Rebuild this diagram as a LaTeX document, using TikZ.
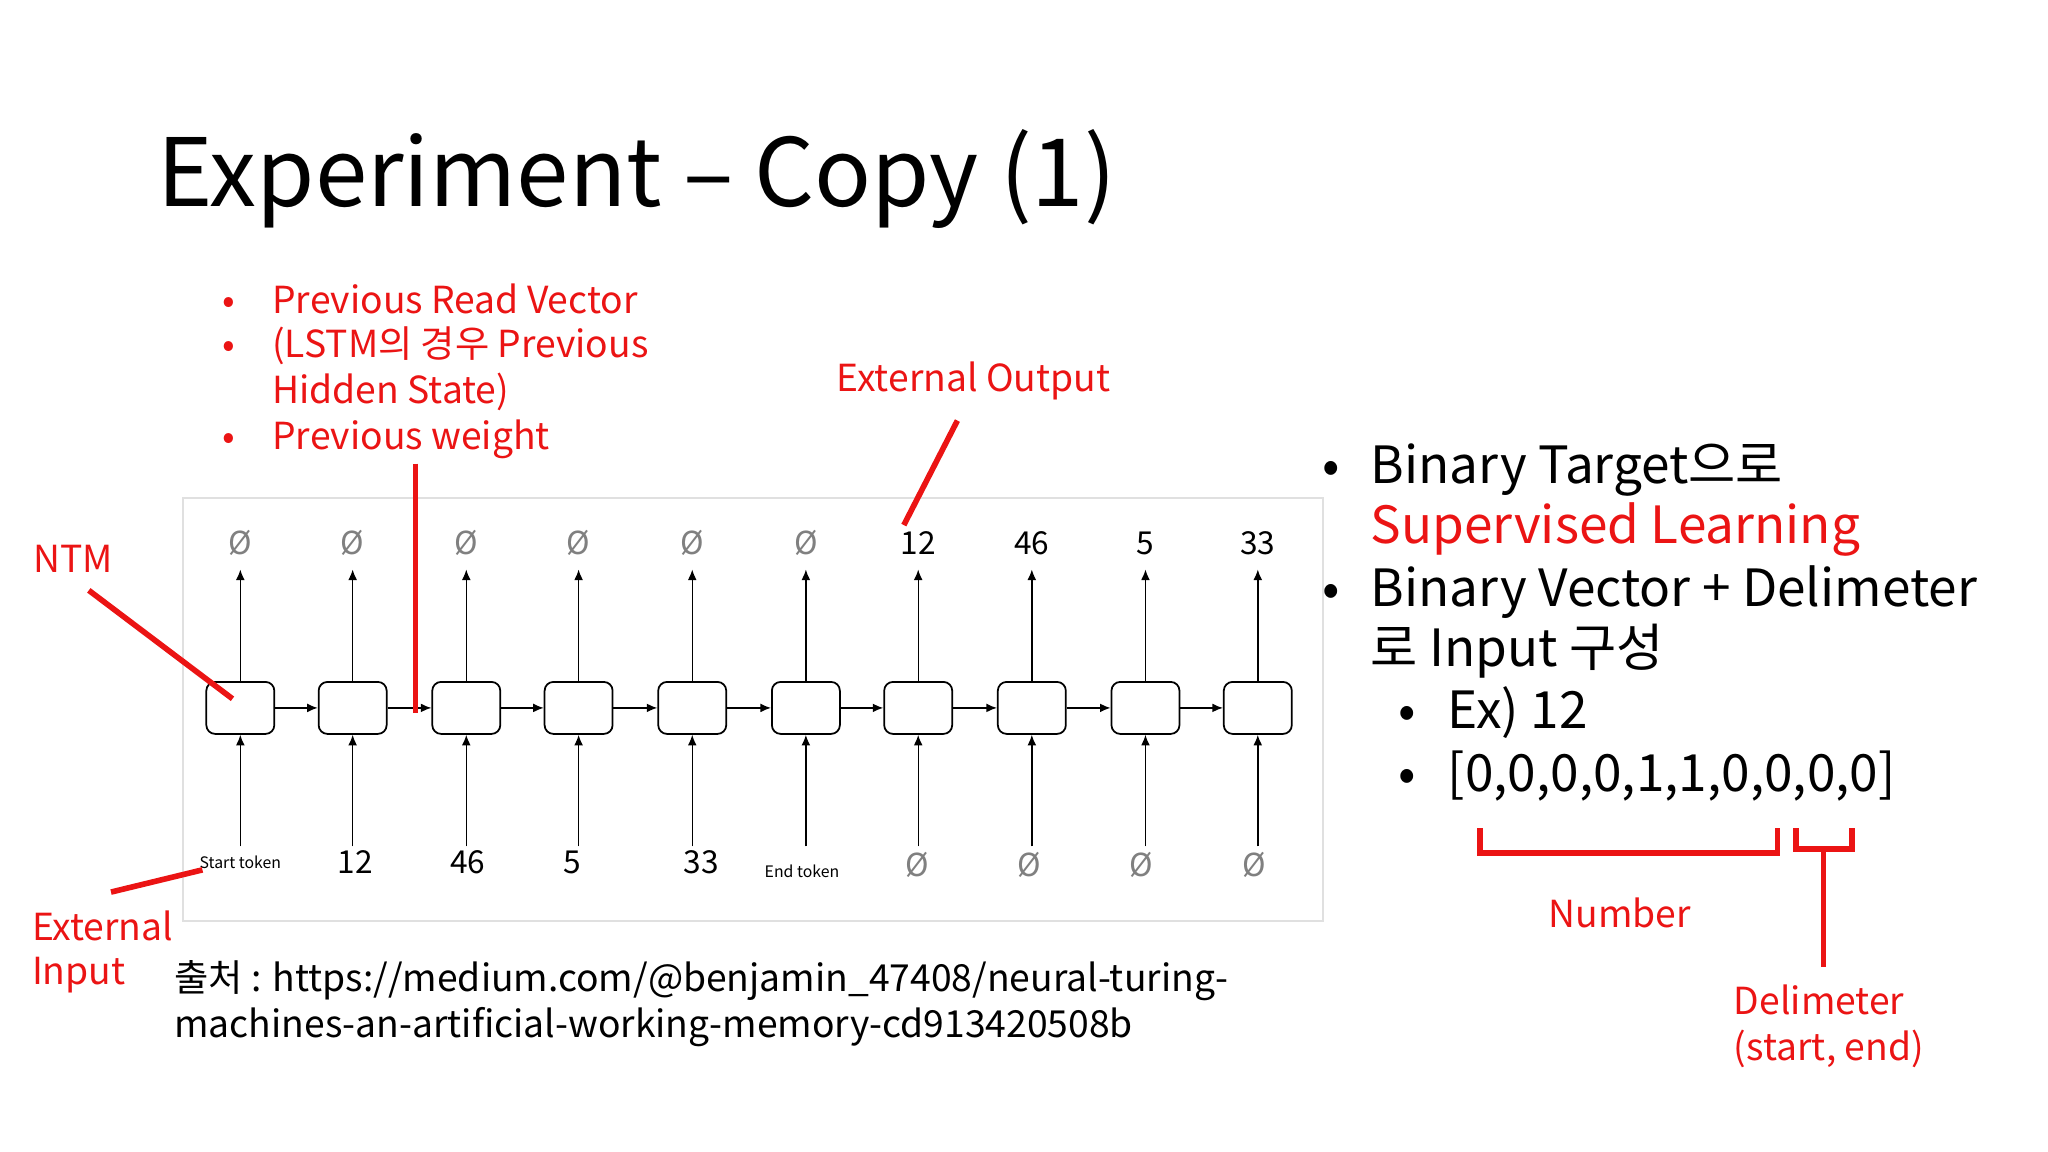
\documentclass[tikz,border=0pt]{standalone}
\usepackage{fontspec}
\setmainfont{Noto Sans CJK KR}
\usetikzlibrary{arrows.meta}
\definecolor{rd}{RGB}{235,20,20}
\begin{document}
\begin{tikzpicture}[x=0.01306cm,y=-0.01306cm,
  cell/.style={draw,rounded corners=2.5pt,minimum width=0.68cm,minimum height=0.52cm,inner sep=0,line width=0.5pt},
  ar/.style={-{Latex[length=3pt,width=2.5pt]},line width=0.4pt},
  red line/.style={rd,line width=1.6pt},
  lab/.style={font=\fontsize{9}{10}\selectfont,inner sep=1pt},
  emp/.style={font=\fontsize{9}{10}\selectfont,text=gray,inner sep=1pt},
  tok/.style={font=\fontsize{4.5}{5}\selectfont,inner sep=1pt},
  rtxt/.style={text=rd,font=\fontsize{10.6}{13}\selectfont,inner sep=0,anchor=base west},
  btxt/.style={font=\fontsize{14.6}{17}\selectfont,inner sep=0,anchor=base west}]
\useasboundingbox (0,0) rectangle (1568,882);
\fill[white] (0,0) rectangle (1568,882);
\node[anchor=base west,inner sep=0,font=\fontsize{26.8}{30}\selectfont] (title) at (120,158) {Experiment – Copy (1)};
\draw[black!12,line width=0.6pt] (140,381) rectangle (1013,705);
\foreach \i/\x/\t/\b/\ts/\bs in {1/184/Ø/Start token/emp/tok,2/270/Ø/12/emp/lab,3/357/Ø/46/emp/lab,4/443/Ø/5/emp/lab,5/530/Ø/33/emp/lab,6/617/Ø/End token/emp/tok,7/703/12/Ø/lab/emp,8/790/46/Ø/lab/emp,9/877/5/Ø/lab/emp,10/963/33/Ø/lab/emp}{
  \node[cell] (c\i) at (\x,542) {};
  \node[\ts] (t\i) at (\x,416) {\t};
  \coordinate (tp\i) at (\x,436);
  \coordinate (bp\i) at (\x,648);
  \draw[ar] (c\i.north) -- (tp\i);
  \draw[ar] (bp\i) -- (c\i.south);
}
\node[tok] (b1) at (184,660) {Start token};
\node[lab] (b2) at (272,660) {12};
\node[lab] (b3) at (358,660) {46};
\node[lab] (b4) at (438,660) {5};
\node[lab] (b5) at (537,660) {33};
\node[tok] (b6) at (614,667) {End token};
\foreach \i/\x in {7/702,8/788,9/874,10/960}{\node[emp] (b\i) at (\x,662) {Ø};}
\foreach \i [evaluate=\i as \j using int(\i+1)] in {1,...,9}{\draw[ar] (c\i) -- (c\j);}
% red annotations
\node[text=rd,font=\fontsize{10.6}{13}\selectfont] (ntm) at (56,428) {NTM};
\coordinate (ntmA) at (68,452); \coordinate (ntmB) at (178,535);
\draw[red line] (ntmA) -- (ntmB);
\node[rtxt] (ei1) at (24,720) {External};
\node[rtxt] (ei2) at (24,754) {Input};
\coordinate (eiA) at (85,683); \coordinate (eiB) at (155,666);
\draw[red line] (eiA) -- (eiB);
\coordinate (pvA) at (318,355); \coordinate (pvB) at (318,546);
\draw[red line] (pvA) -- (pvB);
\node[rtxt] (eo) at (640,300) {External Output};
\coordinate (eoA) at (733,322); \coordinate (eoB) at (692,402);
\draw[red line] (eoA) -- (eoB);
\foreach \y/\t in {240/Previous Read Vector,274/(LSTM의 경우 Previous,309/Hidden State),344/Previous weight}{\node[rtxt] at (208,\y) {\t};}
\foreach \y in {240,274,344}{\node[rtxt] at (170,\y) {•};}
% right text
\node[btxt] at (1012,370) {•};
\node[btxt] at (1049,370) {Binary Target으로};
\node[btxt,text=rd] at (1049,416) {Supervised Learning};
\node[btxt] at (1012,464) {•};
\node[btxt] at (1049,464) {Binary Vector + Delimeter};
\node[btxt] at (1049,510) {로 Input 구성};
\node[btxt] at (1070,558) {•};
\node[btxt] at (1108,558) {Ex) 12};
\node[btxt] at (1070,606) {•};
\node[btxt] at (1108,606) {[0,0,0,0,1,1,0,0,0,0]};
% brackets
\draw[rd,line width=1.6pt] (1133,634) -- (1133,653) -- (1361,653) -- (1361,634);
\draw[rd,line width=1.6pt] (1375,634) -- (1375,650) -- (1418,650) -- (1418,634);
\coordinate (dA) at (1396,650); \coordinate (dB) at (1396,740);
\draw[red line] (dA) -- (dB);
\node[rtxt] (num) at (1185,710) {Number};
\node[rtxt] (dl1) at (1327,777) {Delimeter};
\node[rtxt] (dl2) at (1327,812) {(start, end)};
% source
\node[anchor=base west,inner sep=0,font=\fontsize{10.6}{13}\selectfont] (src1) at (133,759) {출처 : https://medium.com/@benjamin\_47408/neural-turing-};
\node[anchor=base west,inner sep=0,font=\fontsize{10.6}{13}\selectfont] (src2) at (133,794) {machines-an-artificial-working-memory-cd913420508b};
\end{tikzpicture}
\end{document}
